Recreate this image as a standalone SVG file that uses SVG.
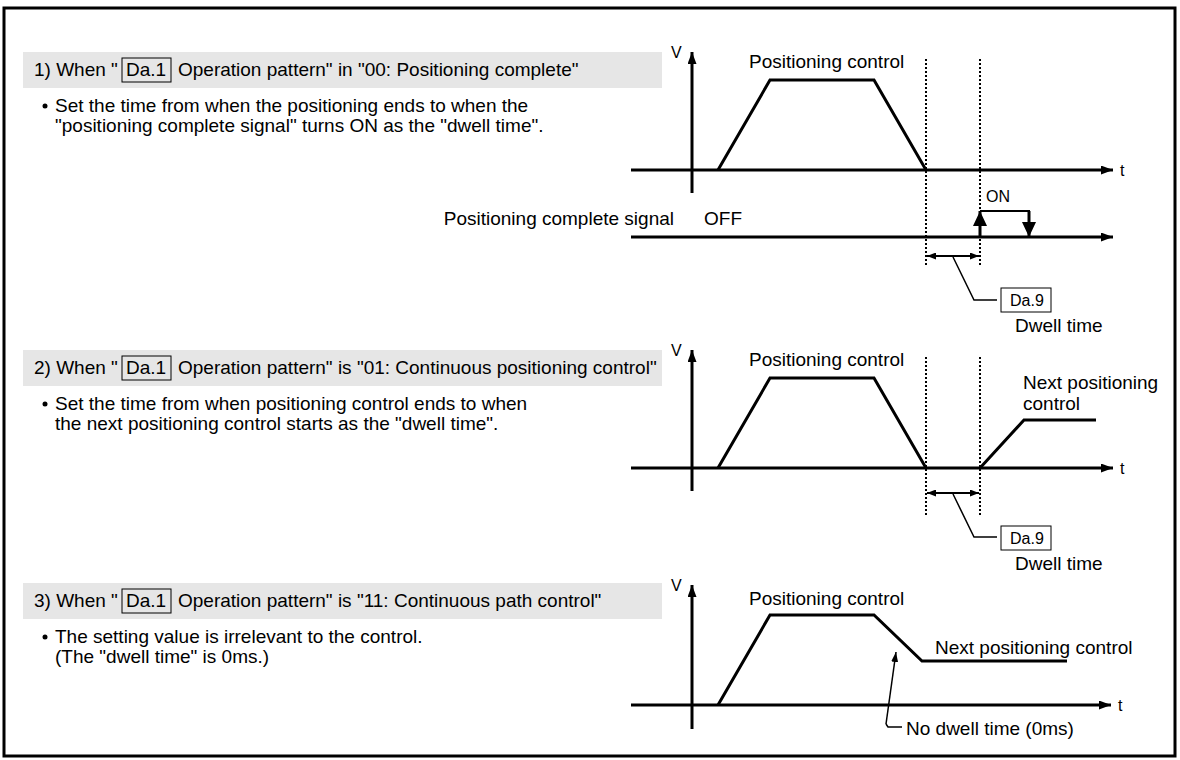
<svg xmlns="http://www.w3.org/2000/svg" width="1180" height="760" viewBox="0 0 1180 760">
<defs>
<marker id="ah" viewBox="0 0 12 9" refX="12" refY="4.5" markerWidth="12" markerHeight="9" orient="auto" markerUnits="userSpaceOnUse"><path d="M0,0 L12,4.5 L0,9 z" fill="#000"/></marker>
<marker id="sm" viewBox="0 0 9 7" refX="9" refY="3.5" markerWidth="9" markerHeight="7" orient="auto-start-reverse" markerUnits="userSpaceOnUse"><path d="M0,0 L9,3.5 L0,7 z" fill="#000"/></marker>
<marker id="big" viewBox="0 0 15 14" refX="15" refY="7" markerWidth="15" markerHeight="14" orient="auto" markerUnits="userSpaceOnUse"><path d="M0,0 L15,7 L0,14 z" fill="#000"/></marker>
<marker id="lead" viewBox="0 0 10 7" refX="10" refY="3.5" markerWidth="10" markerHeight="7" orient="auto" markerUnits="userSpaceOnUse"><path d="M0,0 L10,3.5 L0,7 z" fill="#000"/></marker>
</defs>
<style>
text{font-family:"Liberation Sans",Arial,sans-serif;font-size:19px;fill:#000}
.sm{font-size:16px}
.bar{fill:#e6e6e6}
.box{fill:none;stroke:#000;stroke-width:1}
.ax{stroke:#000;stroke-width:3;fill:none}
.wave{stroke:#000;stroke-width:3;fill:none;stroke-linejoin:miter}
.dot{stroke:#000;stroke-width:2;stroke-dasharray:2 2;fill:none}
.thin{stroke:#000;stroke-width:1.5;fill:none}
.dim{stroke:#000;stroke-width:2;fill:none}
</style>
<rect x="4" y="8" width="1171" height="748" fill="#fff" stroke="#000" stroke-width="3"/>

<g id="section1">
<rect class="bar" x="23" y="52" width="639" height="36"/>
<text x="34" y="76">1) When "</text>
<rect class="box" x="122" y="58" width="49" height="24"/>
<text x="126" y="76">Da.1</text>
<text x="178" y="76">Operation pattern" in "00: Positioning complete"</text>
<circle cx="45" cy="106" r="2.5" fill="#000"/>
<text x="55" y="112">Set the time from when the positioning ends to when the</text>
<text x="55" y="132">"positioning complete signal" turns ON as the "dwell time".</text>
</g>

<g id="chart1">
<text class="sm" x="671" y="58">V</text>
<line class="ax" x1="692" y1="193" x2="692" y2="52" marker-end="url(#ah)"/>
<line class="ax" x1="631" y1="170" x2="1113" y2="170" marker-end="url(#ah)"/>
<text class="sm" x="1120" y="176">t</text>
<text x="749" y="68">Positioning control</text>
<polyline class="wave" points="718,170 770,80 874,80 926,170"/>
<line class="dot" x1="926" y1="59" x2="926" y2="266"/>
<line class="dot" x1="980" y1="59" x2="980" y2="266"/>
<text x="674" y="225" text-anchor="end">Positioning complete signal</text>
<text x="704" y="225">OFF</text>
<line class="ax" x1="631" y1="237" x2="1113" y2="237" marker-end="url(#ah)"/>
<line class="ax" x1="980" y1="237" x2="980" y2="211" marker-end="url(#big)"/>
<polyline class="dim" points="980,211 1029,211 1029,223"/>
<line class="ax" x1="1029" y1="211" x2="1029" y2="237" marker-end="url(#big)"/>
<text class="sm" x="986" y="202">ON</text>
<line class="dim" x1="927" y1="256" x2="979" y2="256" marker-start="url(#sm)" marker-end="url(#sm)"/>
<polyline class="thin" points="953,257 974,300 997,300"/>
<rect class="box" x="1001" y="288" width="50" height="24"/>
<text x="1010" y="306" class="sm">Da.9</text>
<text x="1015" y="332">Dwell time</text>
</g>

<g id="section2">
<rect class="bar" x="23" y="350" width="639" height="36"/>
<text x="34" y="374">2) When "</text>
<rect class="box" x="122" y="356" width="49" height="24"/>
<text x="126" y="374">Da.1</text>
<text x="178" y="374">Operation pattern" is "01: Continuous positioning control"</text>
<circle cx="45" cy="404" r="2.5" fill="#000"/>
<text x="55" y="410">Set the time from when positioning control ends to when</text>
<text x="55" y="430">the next positioning control starts as the "dwell time".</text>
</g>

<g id="chart2">
<text class="sm" x="671" y="356">V</text>
<line class="ax" x1="692" y1="491" x2="692" y2="350" marker-end="url(#ah)"/>
<line class="ax" x1="631" y1="468" x2="1113" y2="468" marker-end="url(#ah)"/>
<text class="sm" x="1120" y="474">t</text>
<text x="749" y="366">Positioning control</text>
<polyline class="wave" points="718,468 770,378 874,378 926,468"/>
<polyline class="wave" points="980,468 1024,420 1096,420"/>
<text x="1023" y="389">Next positioning</text>
<text x="1023" y="410">control</text>
<line class="dot" x1="926" y1="357" x2="926" y2="515"/>
<line class="dot" x1="980" y1="357" x2="980" y2="515"/>
<line class="dim" x1="927" y1="493" x2="979" y2="493" marker-start="url(#sm)" marker-end="url(#sm)"/>
<polyline class="thin" points="953,494 974,537 997,537"/>
<rect class="box" x="1001" y="526" width="50" height="24"/>
<text x="1010" y="544" class="sm">Da.9</text>
<text x="1015" y="570">Dwell time</text>
</g>

<g id="section3">
<rect class="bar" x="23" y="583" width="639" height="36"/>
<text x="34" y="607">3) When "</text>
<rect class="box" x="122" y="589" width="49" height="24"/>
<text x="126" y="607">Da.1</text>
<text x="178" y="607">Operation pattern" is "11: Continuous path control"</text>
<circle cx="45" cy="637" r="2.5" fill="#000"/>
<text x="55" y="643">The setting value is irrelevant to the control.</text>
<text x="55" y="663">(The "dwell time" is 0ms.)</text>
</g>

<g id="chart3">
<text class="sm" x="671" y="591">V</text>
<line class="ax" x1="692" y1="729" x2="692" y2="585" marker-end="url(#ah)"/>
<line class="ax" x1="631" y1="705" x2="1111" y2="705" marker-end="url(#ah)"/>
<text class="sm" x="1118" y="711">t</text>
<text x="749" y="605">Positioning control</text>
<polyline class="wave" points="718,705 770,615 874,615 922,661 1067,661"/>
<text x="935" y="654">Next positioning control</text>
<polyline class="thin" points="886,724 896,652" marker-end="url(#lead)"/>
<polyline class="thin" points="886,724 888,727 902,727"/>
<text x="906" y="735">No dwell time (0ms)</text>
</g>
</svg>
